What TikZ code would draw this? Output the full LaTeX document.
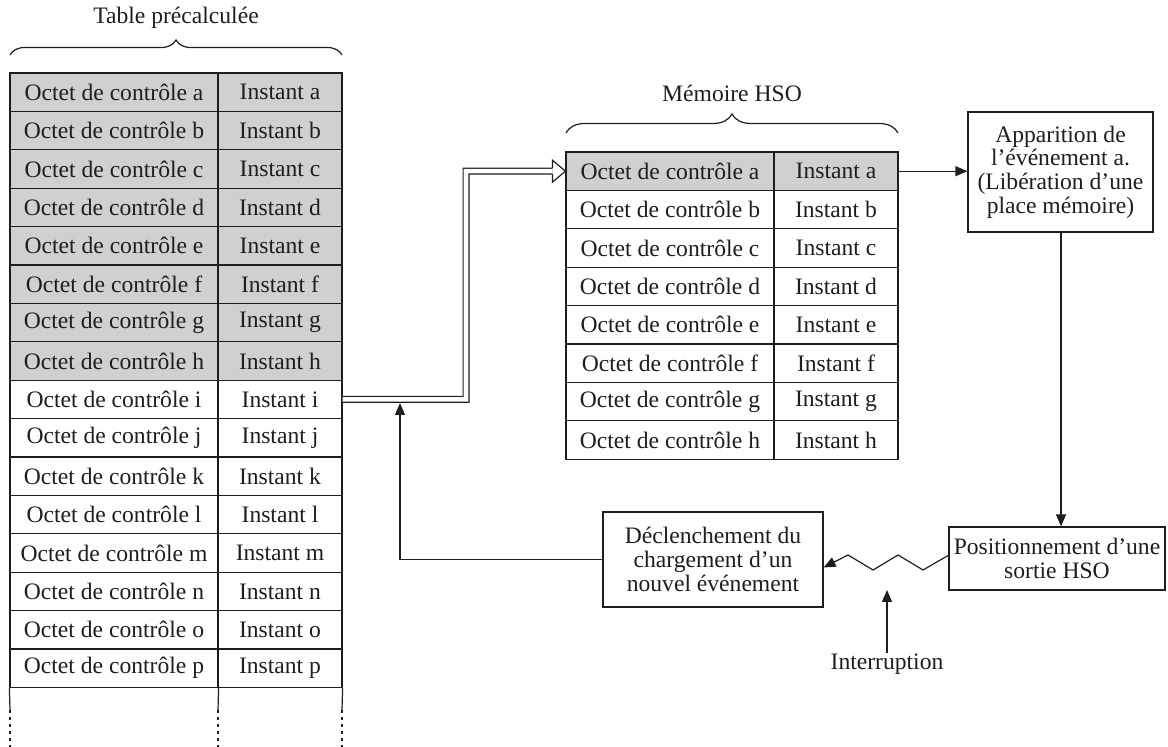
\documentclass[tikz,border=0pt]{standalone}
\usepackage{fontspec}
\setmainfont{Liberation Serif}
\usetikzlibrary{arrows.meta,decorations.pathreplacing}
\definecolor{shade}{RGB}{208,208,208}
\definecolor{ink}{RGB}{30,30,30}
\tikzset{
  cellA/.style={draw=ink, line width=0.6pt, minimum width=104pt, minimum height=19.2pt, inner sep=0pt, text=ink},
  cellB/.style={draw=ink, line width=0.6pt, minimum width=62pt, minimum height=19.2pt, inner sep=0pt, text=ink},
  boxnode/.style={draw=ink, line width=0.6pt, align=center, inner sep=0pt, text=ink},
  lbl/.style={text=ink, inner sep=0pt},
  arr/.style={draw=ink, line width=0.6pt, -{Triangle[length=6pt,width=5pt]}},
  ln/.style={draw=ink, line width=0.6pt},
  dotln/.style={draw=ink, line width=0.7pt, dash pattern=on 1.5pt off 2pt},
  brc/.style={draw=ink, line width=0.6pt, decorate, decoration={brace, amplitude=#1}},
  dbl/.style={draw=ink, line width=0.6pt, double=white, double distance=2.3pt}
}
\begin{document}
\begin{tikzpicture}[x=0.5pt, y=-0.5pt, font=\fontsize{11.8pt}{11.85pt}\selectfont]
\useasboundingbox (0,0) rectangle (1168,747);
% left table
\foreach \l [count=\i from 0] in {a,b,c,d,e,f,g,h} {
  \node[cellA, fill=shade] (L1\l) at (114, 92.2+38.4*\i) {Octet de contrôle \l};
  \node[cellB, fill=shade] (L2\l) at (280, 92.2+38.4*\i) {Instant \l};
}
\foreach \l [count=\i from 8] in {i,j,k,l,m,n,o,p} {
  \node[cellA] (L1\l) at (114, 92.2+38.4*\i) {Octet de contrôle \l};
  \node[cellB] (L2\l) at (280, 92.2+38.4*\i) {Instant \l};
}
\coordinate (e1) at (10,710); \coordinate (e2) at (218,710); \coordinate (e3) at (342,710);
\coordinate (f1) at (10,747); \coordinate (f2) at (218,747); \coordinate (f3) at (342,747);
\draw[ln] (L1p.south west) -- (e1);
\draw[ln] (L1p.south east) -- (e2);
\draw[ln] (L2p.south east) -- (e3);
\draw[dotln] (e1) -- (f1);
\draw[dotln] (e2) -- (f2);
\draw[dotln] (e3) -- (f3);
\coordinate (b1) at (10,55); \coordinate (b2) at (342,55);
\draw[brc=7.5pt] (b1) -- (b2);
\node[lbl] (t1) at (176,18) {Table précalculée};
% HSO table
\foreach \l [count=\i from 0] in {a,b,c,d,e,f,g,h} {
  \node[cellA] (H1\l) at (670, 171.2+38.4*\i) {Octet de contrôle \l};
  \node[cellB] (H2\l) at (836, 171.2+38.4*\i) {Instant \l};
}
\node[cellA, fill=shade] at (H1a) {Octet de contrôle a};
\node[cellB, fill=shade] at (H2a) {Instant a};
\coordinate (b3) at (566,133); \coordinate (b4) at (898,133);
\draw[brc=9.5pt] (b3) -- (b4);
\node[lbl] (t2) at (732,93) {Mémoire HSO};
% boxes
\node[boxnode, minimum width=92.5pt, minimum height=60pt] (app) at (1060.5,172)
  {Apparition de\\l’événement a.\\(Libération d’une\\place mémoire)};
\node[boxnode, minimum width=108pt, minimum height=31.5pt] (pos) at (1057,558.5)
  {Positionnement d’une\\sortie HSO};
\node[boxnode, minimum width=110pt, minimum height=47.5pt] (dec) at (713,559.5)
  {Déclenchement du\\chargement d’un\\nouvel événement};
\node[lbl] (int) at (887,664) {Interruption};
% connectors
\draw[arr] (H2a.east) -- (app.west |- H2a.east);
\draw[arr] (app.south -| 1061,0) -- (1061,0 |- pos.north);
\coordinate (zz) at (949,555);
\draw[arr, line join=miter] (zz) -- (923,570) -- (898,555) -- (873,570) -- (848,555) -- ([yshift=-4pt]dec.east);
\coordinate (ii) at (887,590);
\draw[arr] (int.north) -- (ii);
\coordinate (ret) at (400,403);
\draw[arr] (dec.west) -| (ret);
% double arrow
\coordinate (hd) at (H1a.west);
\draw[dbl] (L2i.east) -- (466,399.4) |- ([xshift=-6.5pt]hd);
\draw[ln, line join=miter] ([shift={(-13,-3)}]hd) -- ([shift={(-13,-11)}]hd) -- (hd) -- ([shift={(-13,11)}]hd) -- ([shift={(-13,3)}]hd);
\end{tikzpicture}
\end{document}
